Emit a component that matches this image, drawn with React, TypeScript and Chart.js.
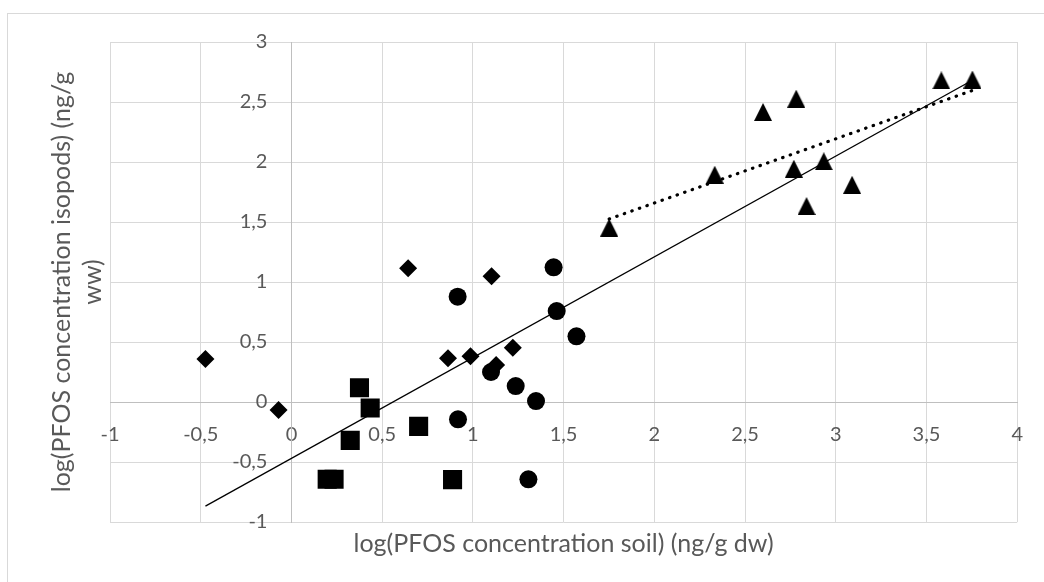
import React, { useEffect, useRef } from "react";
import { Chart, registerables } from "chart.js";

Chart.register(...registerables);

// Series: diamonds
const diamondX = [-0.474, -0.071, 0.643, 1.103, 0.863, 0.987, 1.22, 1.128];
const diamondY = [0.358, -0.067, 1.114, 1.047, 0.364, 0.381, 0.453, 0.308];
// Series: squares
const squareX = [0.375, 0.434, 0.324, 0.197, 0.235, 0.701, 0.888];
const squareY = [0.119, -0.05, -0.32, -0.644, -0.644, -0.203, -0.647];
// Series: circles
const circleX = [0.916, 1.445, 1.462, 1.571, 1.1, 1.236, 1.348, 0.918, 1.306];
const circleY = [0.878, 1.122, 0.758, 0.547, 0.25, 0.133, 0.008, -0.144, -0.644];
// Series: triangles
const triangleX = [1.751, 2.333, 2.599, 2.782, 2.769, 2.934, 3.09, 2.839, 3.582, 3.753];
const triangleY = [1.454, 1.894, 2.417, 2.528, 1.944, 2.006, 1.81, 1.633, 2.68, 2.687];
// Trendlines (end points)
const trendAllX = [-0.474, 3.753];
const trendAllY = [-0.868, 2.681];
const trendTriX = [1.751, 3.753];
const trendTriY = [1.525, 2.596];

// Axes
const xMin = -1, xMax = 4, xStep = 0.5;
const yMin = -1, yMax = 3, yStep = 0.5;
const xTitle = "log(PFOS concentration soil) (ng/g dw)";
const yTitleLines = ["log(PFOS concentration isopods) (ng/g", "ww)"];

const zip = (xs: number[], ys: number[]) => xs.map((x, i) => ({ x, y: ys[i] }));
const fmt = (v: number | string) => String(Math.round(Number(v) * 10) / 10).replace(".", ",");

const TEXT = "#595959";
const FONT = "Lato, 'Open Sans', sans-serif";

function makeTriangle(): HTMLCanvasElement {
  const c = document.createElement("canvas");
  c.width = 18;
  c.height = 18;
  const g = c.getContext("2d")!;
  g.fillStyle = "#000";
  g.beginPath();
  g.moveTo(9, 0);
  g.lineTo(18, 18);
  g.lineTo(0, 18);
  g.closePath();
  g.fill();
  return c;
}

export default function App() {
  const ref = useRef<HTMLCanvasElement>(null);
  useEffect(() => {
    document.body.style.margin = "0";
    const tri = makeTriangle();
    const shifted = new WeakSet<any>();
    const decor = {
      id: "decor",
      beforeDraw(chart: any) {
        const ctx = chart.ctx;
        ctx.save();
        ctx.fillStyle = "#fff";
        ctx.fillRect(0, 0, chart.width, chart.height);
        ctx.strokeStyle = "#d9d9d9";
        ctx.lineWidth = 1;
        ctx.strokeRect(7.5, 13.5, 1200, 800);
        ctx.restore();
        // move y tick labels away from the crossing axis line
        const ys = chart.scales.y;
        const items = ys.getLabelItems(chart.chartArea);
        if (!shifted.has(items)) {
          items.forEach((it: any) => {
            it.options.translation[0] -= 24;
          });
          shifted.add(items);
        }
      },
      afterDraw(chart: any) {
        const ctx = chart.ctx;
        const a = chart.chartArea;
        ctx.save();
        ctx.fillStyle = TEXT;
        ctx.font = `25px ${FONT}`;
        ctx.textAlign = "center";
        ctx.textBaseline = "middle";
        ctx.fillText(xTitle, (a.left + a.right) / 2, a.bottom + 22);
        const cy = (a.top + a.bottom) / 2;
        const xs = [a.left - 48, a.left - 17];
        yTitleLines.forEach((t, i) => {
          ctx.save();
          ctx.translate(xs[i], cy);
          ctx.rotate(-Math.PI / 2);
          ctx.fillText(t, 0, 0);
          ctx.restore();
        });
        ctx.restore();
      },
    };
    const chart = new Chart(ref.current!, {
      type: "scatter",
      data: {
        datasets: [
          {
            type: "line",
            data: zip(trendAllX, trendAllY),
            borderColor: "#000",
            borderWidth: 1.3,
            pointRadius: 0,
            order: 0,
          },
          {
            type: "line",
            data: zip(trendTriX, trendTriY),
            borderColor: "#000",
            borderWidth: 3.2,
            borderDash: [0.5, 7.5],
            borderCapStyle: "round",
            pointRadius: 0,
            order: 0,
          },
          {
            data: zip(diamondX, diamondY),
            pointStyle: "rectRot",
            pointRadius: 9,
            backgroundColor: "#000",
            borderColor: "#000",
            borderWidth: 0,
            order: 1,
          },
          {
            data: zip(squareX, squareY),
            pointStyle: "rect",
            pointRadius: 13.5,
            backgroundColor: "#000",
            borderColor: "#000",
            borderWidth: 0,
            order: 1,
          },
          {
            data: zip(circleX, circleY),
            pointStyle: "circle",
            pointRadius: 9,
            backgroundColor: "#000",
            borderColor: "#000",
            borderWidth: 0,
            order: 1,
          },
          {
            data: zip(triangleX, triangleY),
            pointStyle: tri as any,
            backgroundColor: "#000",
            borderColor: "#000",
            order: 1,
          },
        ] as any,
      },
      options: {
        animation: false,
        responsive: false,
        layout: { padding: { left: 110, top: 42, right: 24, bottom: 60 } },
        plugins: { legend: { display: false }, tooltip: { enabled: false } },
        scales: {
          x: {
            type: "linear",
            position: { y: 0 } as any,
            min: xMin,
            max: xMax,
            ticks: {
              stepSize: xStep,
              callback: (v: any) => fmt(v),
              color: TEXT,
              font: { family: FONT, size: 20 },
              padding: 21,
              maxRotation: 0,
            },
            grid: { color: "#d9d9d9", drawTicks: false, lineWidth: 1 },
            border: { color: "#bfbfbf", width: 1 },
          },
          y: {
            type: "linear",
            position: { x: 0 } as any,
            min: yMin,
            max: yMax,
            ticks: {
              stepSize: yStep,
              callback: (v: any) => fmt(v),
              color: TEXT,
              font: { family: FONT, size: 20 },
              padding: 22,
            },
            grid: { color: "#d9d9d9", drawTicks: false, lineWidth: 1 },
            border: { color: "#bfbfbf", width: 1 },
          },
        },
      },
      plugins: [decor],
    });
    return () => chart.destroy();
  }, []);
  return (
    <div style={{ position: "fixed", left: 0, top: 0, width: 1044, height: 582 }}>
      <canvas ref={ref} width={1044} height={582} />
    </div>
  );
}
